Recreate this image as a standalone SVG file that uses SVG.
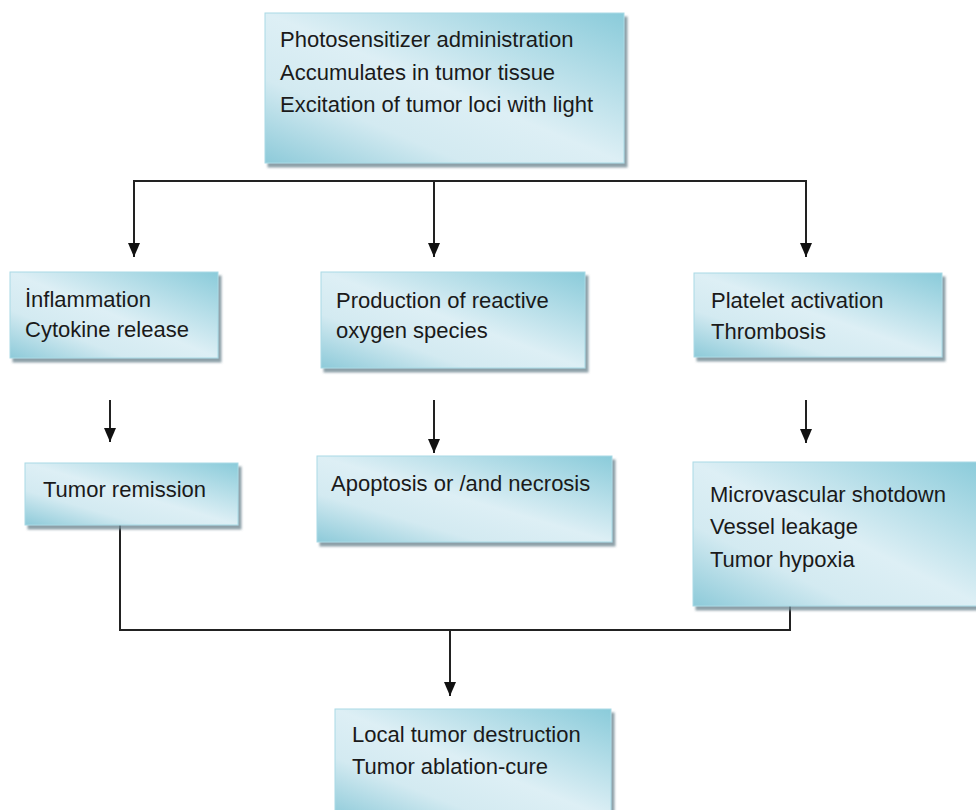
<svg xmlns="http://www.w3.org/2000/svg" width="976" height="810" viewBox="0 0 976 810">
<defs>
<linearGradient id="g" x1="1" y1="0" x2="0" y2="1">
<stop offset="0" stop-color="#8ACBDA"/>
<stop offset="0.5" stop-color="#DDEFF5"/>
<stop offset="0.72" stop-color="#D3EAF1"/>
<stop offset="1" stop-color="#8DCAD9"/>
</linearGradient>
<filter id="sh" x="-5%" y="-5%" width="115%" height="120%">
<feDropShadow dx="3" dy="4" stdDeviation="1" flood-color="#6F8793" flood-opacity="0.8"/>
</filter>
<marker id="ah" viewBox="0 0 14 12" refX="14" refY="6" markerWidth="14" markerHeight="12" markerUnits="userSpaceOnUse" orient="auto">
<path d="M0,0 L14,6 L0,12 Z" fill="#111"/>
</marker>
</defs>
<style>
.box{fill:url(#g);stroke:#A9DAE5;stroke-width:1;filter:url(#sh)}
.t{font-family:"Liberation Sans",Arial,sans-serif;font-size:22px;fill:#1a1a1a}
.c{fill:none;stroke:#222;stroke-width:2}
.a{fill:none;stroke:#222;stroke-width:2;marker-end:url(#ah)}
</style>
<rect width="976" height="810" fill="#fff"/>
<g id="connectors">
<path class="c" d="M134,181 H806"/>
<path class="a" d="M134,180 V257"/>
<path class="a" d="M434,181 V257"/>
<path class="a" d="M806,180 V257"/>
<path class="a" d="M110,400 V442"/>
<path class="a" d="M434,400 V453"/>
<path class="a" d="M806,400 V443"/>
<path class="c" d="M120,525 V630 H790 V606"/>
<path class="a" d="M450,630 V696"/>
</g>
<g id="n1">
<rect class="box" x="265" y="13" width="359" height="150"/>
<text class="t" x="280" y="47">Photosensitizer administration</text>
<text class="t" x="280" y="80">Accumulates in tumor tissue</text>
<text class="t" x="280" y="112">Excitation of tumor loci with light</text>
</g>
<g id="n2">
<rect class="box" x="10" y="272" width="208" height="86"/>
<text class="t" x="25" y="307">İnflammation</text>
<text class="t" x="25" y="337">Cytokine release</text>
</g>
<g id="n3">
<rect class="box" x="321" y="272" width="264" height="96"/>
<text class="t" x="336" y="308">Production of reactive</text>
<text class="t" x="336" y="338">oxygen species</text>
</g>
<g id="n4">
<rect class="box" x="694" y="273" width="248" height="84"/>
<text class="t" x="711" y="308">Platelet activation</text>
<text class="t" x="711" y="339">Thrombosis</text>
</g>
<g id="n5">
<rect class="box" x="25" y="463" width="213" height="62"/>
<text class="t" x="43" y="497">Tumor remission</text>
</g>
<g id="n6">
<rect class="box" x="317" y="456" width="295" height="86"/>
<text class="t" x="331" y="491">Apoptosis or /and necrosis</text>
</g>
<g id="n7">
<rect class="box" x="693" y="462" width="290" height="144"/>
<text class="t" x="710" y="502">Microvascular shotdown</text>
<text class="t" x="710" y="534"> Vessel leakage</text>
<text class="t" x="710" y="567">Tumor hypoxia</text>
</g>
<g id="n8">
<rect class="box" x="335" y="709" width="276" height="110"/>
<text class="t" x="352" y="742">Local tumor destruction</text>
<text class="t" x="352" y="774">Tumor ablation-cure</text>
</g>
</svg>
